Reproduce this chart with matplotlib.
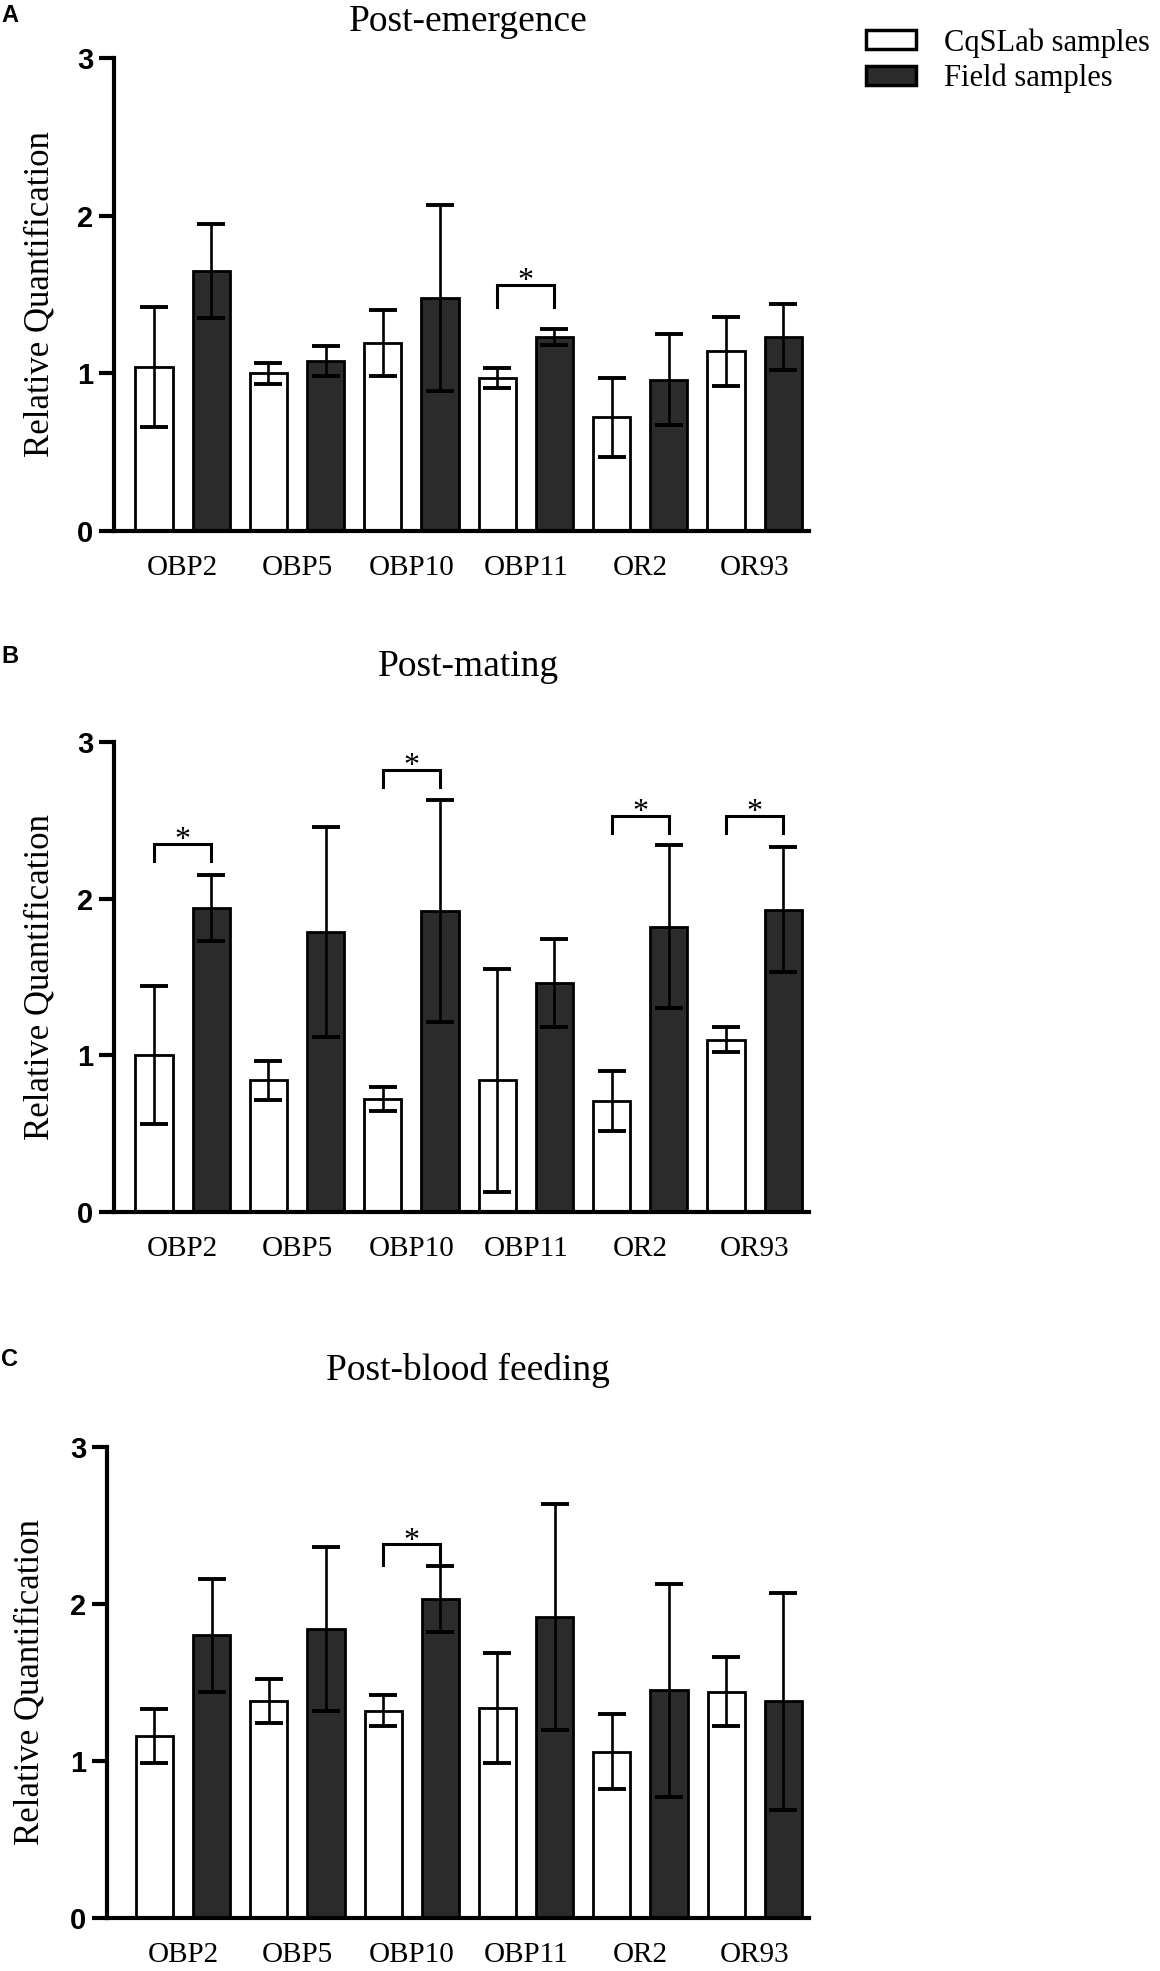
import matplotlib
matplotlib.use("Agg")
import matplotlib.pyplot as plt
import numpy as np
from matplotlib.patches import Patch

genes = ["OBP2", "OBP5", "OBP10", "OBP11", "OR2", "OR93"]
series_names = ["CqSLab samples", "Field samples"]

titles = ["Post-emergence", "Post-mating", "Post-blood feeding"]
panel_letters = ["A", "B", "C"]

# Panel A: Post-emergence
cq_A = [1.04, 1.00, 1.19, 0.97, 0.72, 1.14]
cq_A_err = [0.38, 0.065, 0.21, 0.065, 0.25, 0.22]
field_A = [1.65, 1.08, 1.48, 1.23, 0.96, 1.23]
field_A_err = [0.30, 0.095, 0.59, 0.05, 0.29, 0.21]
sig_A = [3]            # gene indices with significance bracket
sig_A_y = [1.56]

# Panel B: Post-mating
cq_B = [1.00, 0.84, 0.72, 0.84, 0.71, 1.10]
cq_B_err = [0.44, 0.125, 0.075, 0.71, 0.19, 0.08]
field_B = [1.94, 1.79, 1.92, 1.46, 1.82, 1.93]
field_B_err = [0.21, 0.67, 0.71, 0.28, 0.52, 0.40]
sig_B = [0, 2, 4, 5]
sig_B_y = [2.35, 2.82, 2.53, 2.53]

# Panel C: Post-blood feeding
cq_C = [1.16, 1.38, 1.32, 1.34, 1.06, 1.44]
cq_C_err = [0.17, 0.14, 0.10, 0.35, 0.24, 0.22]
field_C = [1.80, 1.84, 2.03, 1.92, 1.45, 1.38]
field_C_err = [0.36, 0.52, 0.21, 0.72, 0.68, 0.69]
sig_C = [2]
sig_C_y = [2.38]

yticks = [0, 1, 2, 3]

W, H = 1160, 1971
fig = plt.figure(figsize=(W / 100, H / 100), dpi=100)

serif = ["Liberation Serif", "DejaVu Serif"]
sans = ["Liberation Sans", "DejaVu Sans"]

DARK = "#2b2b2b"

def px_axes(left, right, top, bottom):
    return [left / W, (H - bottom) / H, (right - left) / W, (bottom - top) / H]

panels = [
    dict(cq=cq_A, cqe=cq_A_err, fd=field_A, fde=field_A_err, sig=sig_A, sigy=sig_A_y,
         rect=px_axes(114, 809, 58, 531), xl=-0.70, ylab_x=40, title_y=22, letter_y=16, leg=0.14),
    dict(cq=cq_B, cqe=cq_B_err, fd=field_B, fde=field_B_err, sig=sig_B, sigy=sig_B_y,
         rect=px_axes(114, 809, 742, 1212), xl=-0.70, ylab_x=40, title_y=667, letter_y=657, leg=0.11),
    dict(cq=cq_C, cqe=cq_C_err, fd=field_C, fde=field_C_err, sig=sig_C, sigy=sig_C_y,
         rect=px_axes(107, 809, 1447, 1918), xl=-0.83, ylab_x=30, title_y=1370, letter_y=1360, leg=0.13),
]

bw = 0.65
for i, p in enumerate(panels):
    ax = fig.add_axes(p["rect"])
    n = len(genes)
    xc = np.arange(n) * 2
    xf = xc + 1
    ax.bar(xc, p["cq"], width=bw, color="white", edgecolor="black", linewidth=2.0, zorder=2)
    ax.bar(xf, p["fd"], width=bw, color=DARK, edgecolor="black", linewidth=2.0, zorder=2)
    ax.errorbar(xc, p["cq"], yerr=p["cqe"], fmt="none", ecolor="black", elinewidth=1.9,
                capsize=10, capthick=2.8, zorder=3)
    ax.errorbar(xf, p["fd"], yerr=p["fde"], fmt="none", ecolor="black", elinewidth=1.9,
                capsize=10, capthick=2.8, zorder=3)
    for gi, yb in zip(p["sig"], p["sigy"]):
        x0, x1 = xc[gi], xf[gi]
        ax.plot([x0, x0, x1, x1], [yb - p["leg"], yb, yb, yb - p["leg"]], color="black",
                lw=2.2, solid_joinstyle="miter", zorder=3, clip_on=False)
        ax.annotate("*", xy=((x0 + x1) / 2, yb), xytext=(0, -3), textcoords="offset points",
                    ha="center", va="baseline", fontsize=23, family=serif, annotation_clip=False)

    ax.set_xlim(p["xl"], 11.45)
    ax.set_ylim(0, 3)
    ax.set_yticks(yticks)
    ax.set_yticklabels([str(t) for t in yticks], fontsize=21, fontweight="bold", family=sans)
    ax.set_xticks((xc + xf) / 2)
    ax.set_xticklabels(genes, fontsize=21, family=serif)
    ax.tick_params(axis="x", length=0, pad=17)
    ax.tick_params(axis="y", length=11, width=3, pad=4)
    for s in ["top", "right"]:
        ax.spines[s].set_visible(False)
    for s in ["left", "bottom"]:
        ax.spines[s].set_linewidth(3)
    ax.spines["left"].set_capstyle("projecting")

    ycen = p["rect"][1] + p["rect"][3] / 2
    fig.text(p["ylab_x"] / W, ycen, "Relative Quantification", rotation=90, ha="center",
             va="center", fontsize=25, family=serif)
    fig.text(468 / W, 1 - p["title_y"] / H, titles[i], ha="center", va="center",
             fontsize=27, family=serif)
    fig.text(10 / W, 1 - p["letter_y"] / H, panel_letters[i], ha="center", va="center",
             fontsize=17, fontweight="bold", family=sans)

handles = [Patch(facecolor="white", edgecolor="black", linewidth=2.5),
           Patch(facecolor=DARK, edgecolor="black", linewidth=2.5)]
fig.legend(handles, series_names, loc="upper left", bbox_to_anchor=(866 / W, 1 - 28 / H),
           frameon=False, prop={"family": serif, "size": 22}, handlelength=1.65,
           handleheight=0.6, handletextpad=0.9, labelspacing=0.2, borderpad=0,
           borderaxespad=0)

fig.savefig("out.png", dpi=100)
